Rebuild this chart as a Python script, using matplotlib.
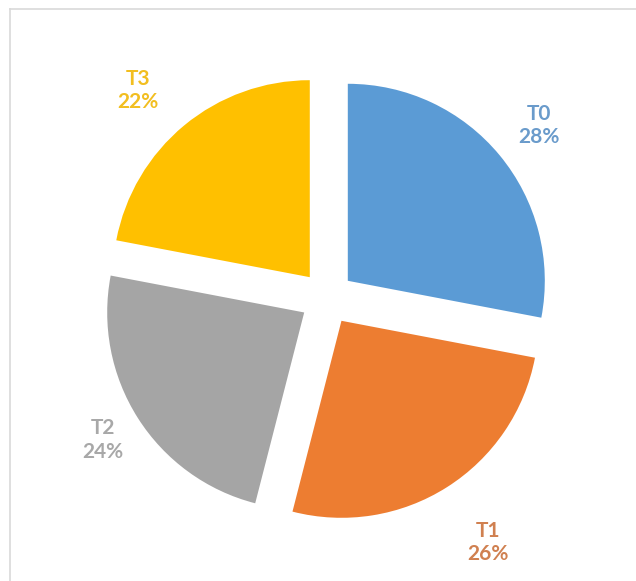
import numpy as np
import matplotlib.pyplot as plt
from matplotlib.lines import Line2D

labels = ['T0', 'T1', 'T2', 'T3']
shares = [28, 26, 24, 22]
colors = ['#5B9BD5', '#ED7D31', '#A5A5A5', '#FFC000']
text_colors = ['#6A9BCB', '#D08050', '#A8A8A8', '#F2BE20']

W, H = 636, 581
fig = plt.figure(figsize=(W / 100, H / 100), dpi=100)

# axes box in pixels, pie centre at (327, 298) from top-left, 200 px per unit
cx, cy, half = 327, 298, 250
ax = fig.add_axes([(cx - half) / W, (H - cy - half) / H, 2 * half / W, 2 * half / H])

explode = [0.135] * len(shares)
wedges, _ = ax.pie(shares, colors=colors, startangle=90, counterclock=False,
                   explode=explode, radius=0.985,
                   wedgeprops=dict(linewidth=0))
ax.set_xlim(-1.25, 1.25)
ax.set_ylim(-1.25, 1.25)
ax.set_aspect('equal')
ax.axis('off')

# data labels just outside each slice
label_dist = [1.23, 1.33, 1.19, 1.27]
label_turn = [-0.5, 1.0, 0.0, 3.0]
for w, lab, val, tc, d, t, ex in zip(wedges, labels, shares, text_colors,
                                     label_dist, label_turn, explode):
    mid = np.deg2rad((w.theta1 + w.theta2) / 2 + t)
    x = ex * np.cos(np.deg2rad((w.theta1 + w.theta2) / 2)) + d * np.cos(mid)
    y = ex * np.sin(np.deg2rad((w.theta1 + w.theta2) / 2)) + d * np.sin(mid)
    ax.text(x, y, f'{lab}\n{val}%', ha='center', va='center', color=tc,
            fontsize=15, fontweight='bold', family=['Lato', 'DejaVu Sans'],
            linespacing=1.2)

# chart area border (top and left edges visible)
fig.add_artist(Line2D([10 / W, 1], [1 - 9 / H, 1 - 9 / H], color='#d9d9d9', lw=1.2))
fig.add_artist(Line2D([10 / W, 10 / W], [0, 1 - 9 / H], color='#d9d9d9', lw=1.2))

fig.savefig('out.png', dpi=100)
